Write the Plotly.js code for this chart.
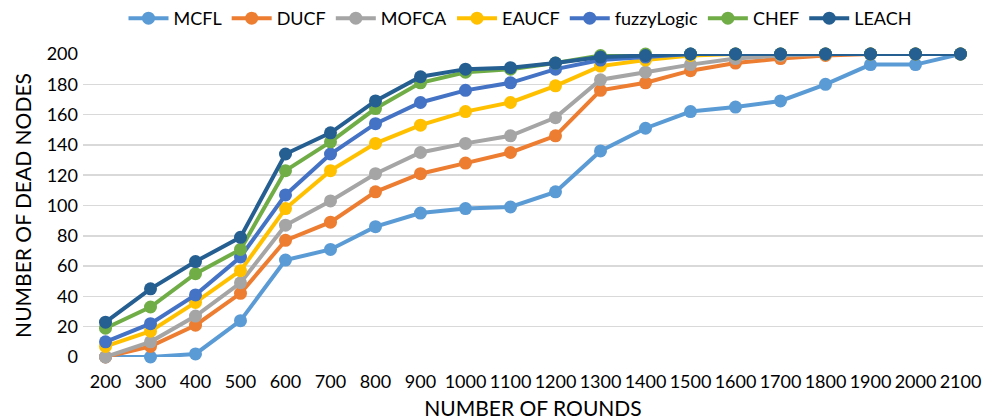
<!DOCTYPE html>
<html><head><meta charset="utf-8">
<script src="https://cdn.plot.ly/plotly-3.0.1.min.js"></script>
<style>html,body{margin:0;padding:0;background:#fff}#chart{width:1000px;height:420px}</style>
</head><body><div id="chart"></div>
<script>
const rounds = ["200","300","400","500","600","700","800","900","1000","1100","1200","1300","1400","1500","1600","1700","1800","1900","2000","2100"];
const MCFL =       [0, 0, 2, 24, 64, 71, 86, 95, 98, 99, 109, 136, 151, 162, 165, 169, 180, 193, 193, 200];
const DUCF =       [0, 7, 21, 42, 77, 89, 109, 121, 128, 135, 146, 176, 181, 189, 194, 197, 199, 200, 200, 200];
const MOFCA =      [0, 10, 27, 49, 87, 103, 121, 135, 141, 146, 158, 183, 188, 193, 197, 199, 200, 200, 200, 200];
const EAUCF =      [7, 17, 36, 57, 98, 123, 141, 153, 162, 168, 179, 192, 196, 199, 200, 200, 200, 200, 200, 200];
const fuzzyLogic = [10, 22, 41, 66, 107, 134, 154, 168, 176, 181, 190, 196, 198, 200, 200, 200, 200, 200, 200, 200];
const CHEF =       [19, 33, 55, 71, 123, 142, 164, 181, 188, 190, 194, 199, 200, 200, 200, 200, 200, 200, 200, 200];
const LEACH =      [23, 45, 63, 79, 134, 148, 169, 185, 190, 191, 194, 198, 199, 200, 200, 200, 200, 200, 200, 200];

const seriesNames = ["MCFL","DUCF","MOFCA","EAUCF","fuzzyLogic","CHEF","LEACH"];
const seriesData = [MCFL, DUCF, MOFCA, EAUCF, fuzzyLogic, CHEF, LEACH];
const colors = ["#5B9BD5","#ED7D31","#A5A5A5","#FFC000","#4472C4","#70AD47","#255E91"];

const FONT = "Lato, 'Open Sans', Arial, sans-serif";

const traces = seriesNames.map((n, i) => ({
  type: 'scatter', mode: 'lines+markers', name: n,
  x: rounds, y: seriesData[i],
  line: {color: colors[i], width: 4},
  marker: {color: colors[i], size: 13},
  cliponaxis: false
}));

const layout = {
  width: 1000, height: 420,
  margin: {l: 83, r: 17, t: 54, b: 63},
  paper_bgcolor: '#fff', plot_bgcolor: '#fff',
  font: {family: FONT, size: 18, color: '#000'},
  showlegend: true,
  legend: {orientation: 'h', xref: 'container', yref: 'container', x: 0.52, xanchor: 'center', y: 1.0, yanchor: 'top',
           font: {family: FONT, size: 18, color: '#000'}, itemwidth: 40, tracegroupgap: 0, traceorder: 'normal'},
  xaxis: {type: 'category', range: [-0.5, 19.5], showgrid: false, zeroline: false, showline: false, ticks: '', automargin: false,
          tickangle: 0, ticklabelstandoff: 12, tickfont: {family: FONT, size: 18},
          title: {text: 'NUMBER OF ROUNDS', font: {family: FONT, size: 21}}},
  yaxis: {range: [0, 200], dtick: 20, showgrid: true, gridcolor: '#D9D9D9', gridwidth: 1.5, automargin: false,
          zeroline: false, showline: false, ticks: '', ticklabelstandoff: 4, tickfont: {family: FONT, size: 18},
          title: {text: 'NUMBER OF DEAD NODES', font: {family: FONT, size: 21}}}
};

Plotly.newPlot('chart', traces, layout, {displayModeBar: false, staticPlot: true});
</script>
</body></html>
